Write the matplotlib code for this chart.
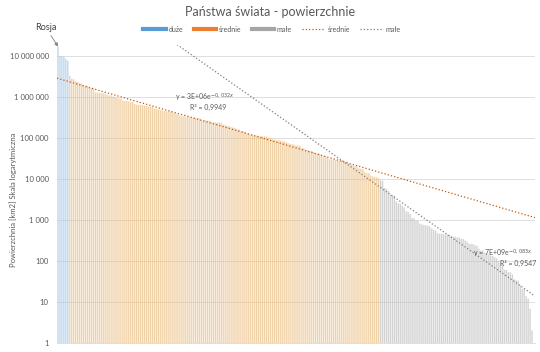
import matplotlib as mpl
mpl.use('Agg')
import matplotlib.pyplot as plt
from matplotlib.lines import Line2D
import numpy as np

plt.rcParams['font.family'] = ['Lato', 'DejaVu Sans']

# powierzchnie panstw [km2], malejaco
duze = [17098242, 9984670, 9833517, 9596961, 8515767, 7692024]

srednie = [3287263, 2780400, 2724900, 2381741, 2344858, 2166086, 2149690, 1964375,
           1904569, 1861484, 1759540, 1648195, 1564110, 1285216, 1284000, 1267000,
           1246700, 1240192, 1221037, 1141748, 1104300, 1098581, 1030700, 1002450,
           945087, 923768, 916445, 825615, 801590, 796095, 783562, 756102, 752618,
           676578, 652230, 644329, 643801, 637657, 622984, 603500, 587041, 582000,
           580367, 527968, 513120, 505992, 488100, 475442, 462840, 450295, 447400,
           446550, 438317, 406752, 390757, 377930, 357114, 342000, 338424, 331212,
           330803, 323802, 322463, 312685, 309500, 301339, 300000, 276841, 274222,
           270467, 267668, 266000, 245857, 242495, 241550, 238533, 238391, 236800,
           214969, 207600, 199951, 196722, 185180, 181035, 176215, 163820, 163610,
           147570, 147181, 143100, 131990, 130373, 120538, 118484, 117600, 114763,
           112492, 111369, 110879, 109884, 108889, 103000, 100210, 93028, 92090,
           89342, 88361, 86600, 83871, 83600, 78865, 75417, 71740, 70273, 69700,
           65610, 65300, 64559, 56785, 56594, 51209, 51100, 49037, 48671, 45227,
           43094, 41850, 41284, 38394, 36193, 36125, 33846, 30528, 30355, 29743,
           28896, 28748, 28051, 27834, 27750, 26338, 25713, 23200, 22966, 21041,
           20770, 20273, 18272, 17818, 17364, 14874, 13943, 13812, 12189, 11586,
           11295, 10991, 10452]

male = [9251, 9104, 6020, 5765, 5130, 4167, 4033, 3903, 2842, 2586, 2512, 2235,
        2040, 1628, 1580, 1393, 1128, 1106, 964, 948, 811, 780, 751, 747, 728, 702,
        616, 572, 549, 468, 464, 459, 452, 444, 442, 430, 412, 394, 389, 377, 374,
        347, 344, 316, 294, 264, 261, 260, 242, 236, 199, 181, 180, 160, 151, 142,
        135, 131, 123, 116, 102, 91, 78, 61, 60, 54, 53, 47, 36, 34, 33, 26, 21, 21,
        14, 12, 6.8, 2.02, 0.44]

eq_srednie = ['y = 3E+06e$^{-0,032x}$', 'R² = 0,9949']
eq_male = ['y = 7E+09e$^{-0,083x}$', 'R² = 0,9547']

n1, n2, n3 = len(duze), len(srednie), len(male)
N = n1 + n2 + n3
x_d = np.arange(1, n1 + 1)
x_s = np.arange(n1 + 1, n1 + n2 + 1)
x_m = np.arange(n1 + n2 + 1, N + 1)

fig = plt.figure(figsize=(5.4, 3.52), dpi=100)
ax = fig.add_axes([57/540, 1 - 343/352, 478/540, 298/352])

txt = '#595959'
c_d, c_s, c_m = '#5b9bd5', '#ed7d31', '#a5a5a5'
ax.bar(x_d, duze, width=0.7, color='#a9c8e6', alpha=0.75, zorder=2, snap=False, lw=0)
ax.bar(x_s, srednie, width=0.7, color='#ecc38c', alpha=0.75, zorder=2, snap=False, lw=0)
ax.bar(x_m, male, width=0.7, color='#c4c4c4', alpha=0.75, zorder=2, snap=False, lw=0)

# linie trendu wykladniczego
xl = np.linspace(0.5, N + 0.5, 300)
cs = np.polyfit(x_s, np.log(srednie), 1)
cm = np.polyfit(x_m, np.log(male), 1)
ax.plot(xl, np.exp(np.polyval(cs, xl)), ls=':', lw=0.9, color='#c55a11', zorder=3)
ax.plot(xl, np.exp(np.polyval(cm, xl)), ls=':', lw=0.9, color='#7f7f7f', zorder=3)

ax.set_yscale('log')
ax.set_ylim(1, 1.86e7)
ax.set_xlim(0.5, N + 0.5)
ticks = [1, 10, 100, 1000, 10000, 100000, 1000000, 10000000]
ax.set_yticks(ticks)
ax.set_yticklabels(['{:,}'.format(t).replace(',', ' ') for t in ticks])
ax.yaxis.set_minor_locator(mpl.ticker.NullLocator())
ax.tick_params(axis='y', length=0, labelsize=5.5, labelcolor=txt, pad=6)
ax.set_xticks([])
ax.grid(axis='y', color='#d9d9d9', lw=0.6, zorder=0)
for s in ['top', 'right', 'left']:
    ax.spines[s].set_visible(False)
ax.spines['bottom'].set_color('#d9d9d9')
ax.spines['bottom'].set_linewidth(0.6)

fig.text(13/540, 1 - 200/352, 'Powierzchnia [km2] Skala logarytmiczna', rotation=90,
         ha='center', va='center', fontsize=5.5, color=txt)

fig.text(0.5, 1 - 12/352, 'Państwa świata - powierzchnie', ha='center', va='center',
         fontsize=9, color=txt)

handles = [Line2D([], [], color=c_d, lw=3), Line2D([], [], color=c_s, lw=3),
           Line2D([], [], color=c_m, lw=3),
           Line2D([], [], color='#c55a11', lw=0.9, ls=':'),
           Line2D([], [], color='#7f7f7f', lw=0.9, ls=':')]
labels = ['duże', 'średnie', 'małe', 'średnie', 'małe']
fig.legend(handles, labels, loc='center', bbox_to_anchor=(272/540, 1 - 29/352), ncol=5,
           frameon=False, fontsize=5, labelcolor=txt, handlelength=3.2,
           columnspacing=1.5, handletextpad=0.4)

ax.annotate('Rosja', xy=(1, duze[0]), xytext=(-9, 14), textcoords='offset points',
            ha='center', va='center', fontsize=6.5, color='#404040',
            arrowprops=dict(arrowstyle='-|>', color='#7f7f7f', lw=0.6, mutation_scale=5,
                            shrinkA=1, shrinkB=0))

fig.text(175/540, 1 - 98/352, eq_srednie[0], fontsize=5, color=txt, va='center')
fig.text(190/540, 1 - 107/352, eq_srednie[1], fontsize=5, color=txt, va='center')
fig.text(532/540, 1 - 254/352, eq_male[0], fontsize=5, color=txt, va='center', ha='right')
fig.text(500/540, 1 - 263/352, eq_male[1], fontsize=5, color=txt, va='center')

fig.savefig('out.png', dpi=100)
